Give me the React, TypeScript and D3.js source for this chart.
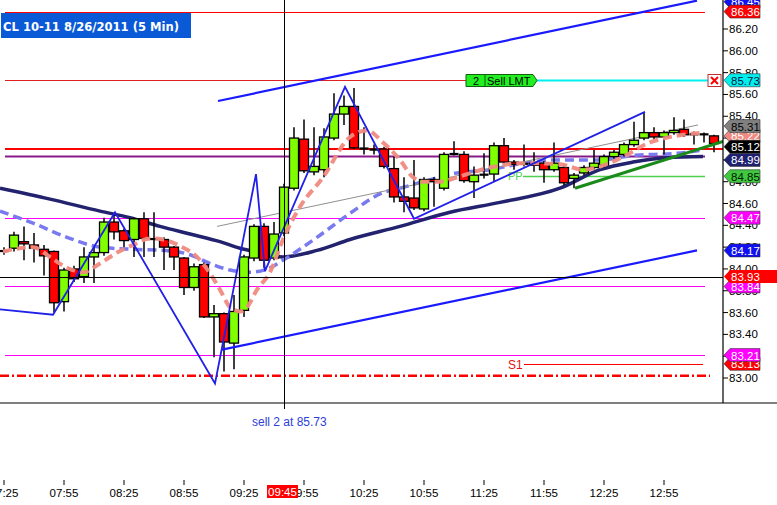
import React, { useEffect } from 'react';
import * as d3 from 'd3';

// 5 min bars from 07:25
const opens = [84.16,84.19,84.25,84.22,84.18,84.16,83.70,84.00,83.93,84.11,84.15,84.43,84.35,84.27,84.46,84.28,84.27,84.20,84.10,83.83,84.04,83.56,83.59,83.32,83.62,84.10,84.39,84.10,84.33,84.74,85.19,84.89,84.91,85.20,85.42,85.49,85.11,85.10,85.10,84.92,84.66,84.65,84.55,84.82,84.74,85.05,85.05,84.80,84.86,84.87,85.13,84.98,84.96,84.97,84.97,84.91,84.93,84.83,84.88,84.93,84.95,85.03,85.05,85.14,85.20,85.25,85.21,85.25,85.28,85.23,85.24,85.22];
const highs = [84.20,84.34,84.39,84.33,84.22,84.17,84.01,84.03,84.20,84.20,84.47,84.50,84.37,84.47,84.52,84.52,84.29,84.21,84.11,84.05,84.06,83.67,83.60,83.76,84.13,84.41,84.42,84.43,84.78,85.30,85.37,85.30,85.29,85.61,85.59,85.66,85.30,85.14,85.12,85.03,84.84,85.00,84.84,84.84,85.07,85.17,85.08,84.94,85.06,85.16,85.20,85.00,85.14,85.07,84.99,85.16,84.96,84.88,84.95,85.09,85.05,85.09,85.16,85.35,85.43,85.30,85.27,85.39,85.37,85.26,85.25,85.23];
const lows = [84.13,84.16,84.08,84.06,83.94,83.60,83.61,83.88,83.87,83.87,84.12,84.27,84.20,84.11,84.11,84.11,83.99,83.99,83.76,83.80,83.55,83.19,83.06,83.08,83.56,84.07,84.01,84.08,84.30,84.72,84.88,84.86,84.84,85.18,85.32,85.10,85.05,85.05,84.92,84.61,84.52,84.54,84.53,84.57,84.72,85.04,84.79,84.65,84.83,84.80,84.96,84.91,84.94,84.89,84.79,84.89,84.77,84.74,84.86,84.91,84.93,85.01,85.03,85.12,85.18,85.19,85.05,85.23,85.21,85.14,85.16,85.07];
const closes = [84.17,84.31,84.23,84.19,84.12,83.69,83.99,83.91,84.11,84.15,84.43,84.34,84.26,84.46,84.28,84.27,84.20,84.11,83.83,84.02,83.56,83.59,83.33,83.61,84.11,84.39,84.08,84.32,84.75,85.20,84.90,84.94,85.21,85.42,85.49,85.11,85.10,85.09,84.94,84.66,84.62,84.56,84.82,84.80,85.05,85.06,84.81,84.86,84.87,85.13,84.98,84.96,84.97,84.95,84.91,84.97,84.79,84.86,84.93,84.97,85.03,85.07,85.14,85.18,85.25,85.21,85.25,85.27,85.23,85.24,85.23,85.15];

const timeTicks = ['07:25','07:55','08:25','08:55','09:25','09:55','10:25','10:55','11:25','11:55','12:25','12:55'];
const priceTicks = [83.0,83.2,83.4,83.6,83.8,84.0,84.2,84.4,84.6,84.8,85.0,85.2,85.4,85.6,85.8,86.0,86.2];

// moving averages, read at bar positions
const slowIdx = [-0.4,4.6,9.6,12.6,15.6,18.6,21.6,23.6,25.6,27.9,31.3,34.6,39.6,44.6,49.6,55.6,59.6,62.9,66.3,69.9];
const slowVal = [84.74,84.64,84.53,84.47,84.39,84.32,84.25,84.19,84.15,84.11,84.17,84.27,84.39,84.52,84.61,84.74,84.91,84.98,85.02,85.03];
const midIdx = [-0.4,2.9,6.3,9.6,12.9,16.1,18.6,20.6,22.6,24.6,26.6,27.9,31.3,34.6,37.9,39.6,41.9,45.3,48.6,51.9,55.6,59.6,62.9,67.3,69.9];
const midVal = [84.53,84.42,84.29,84.20,84.18,84.17,84.13,84.05,83.99,83.97,84.01,84.08,84.29,84.51,84.70,84.74,84.80,84.88,84.91,84.97,85.00,85.00,85.04,85.06,85.09];
const fastIdx = [-0.1,1.6,2.9,4.6,6.3,7.9,9.6,11.3,12.9,14.6,15.9,17.6,19.3,20.6,21.6,22.6,23.6,24.3,25.3,26.6,27.9,29.6,31.9,34.6,36.3,37.9,39.6,40.9,41.9,43.6,45.3,48.6,51.9,55.6,57.9,61.3,64.6,67.9,69.9];
const fastVal = [84.16,84.19,84.20,84.11,84.01,83.97,84.05,84.15,84.22,84.28,84.27,84.21,84.11,83.96,83.81,83.65,83.61,83.65,83.81,83.97,84.27,84.57,84.84,85.21,85.27,85.16,85.00,84.84,84.80,84.80,84.84,84.93,84.97,84.96,84.91,85.00,85.16,85.23,85.25];

// drawn swing lines
const swingIdx = [-0.4,4.9,11.1,21.1,25.2,26.1,34.1,41.0,64.1];
const swingVal = [83.63,83.58,84.52,82.95,84.87,83.98,85.67,84.46,85.44];
const channelUp = [[21.4,85.54],[69.3,86.46]];
const channelDn = [[21.8,83.26],[69.3,84.17]];
const grayTrend = [[21.3,84.39],[69.4,85.32]];
const greenTrend = [[57.1,84.74],[71.9,85.17]];

const axisTags = [
  { v: 86.45, t: '86.45', bg: '#1010f0', fg: '#fff' },
  { v: 86.36, t: '86.36', bg: '#ff0000', fg: '#fff' },
  { v: 85.73, t: '85.73', bg: '#00f0f0', fg: '#002040' },
  { v: 85.22, t: '85.22', bg: '#f08a80', fg: '#fff' },
  { v: 85.31, t: '85.31', bg: '#808080', fg: '#000' },
  { v: 85.12, t: '85.12', bg: '#000000', fg: '#fff' },
  { v: 85.0, t: '84.99', bg: '#202070', fg: '#fff' },
  { v: 84.85, t: '84.85', bg: '#40c840', fg: '#002000' },
  { v: 84.47, t: '84.47', bg: '#ff00ff', fg: '#fff' },
  { v: 84.17, t: '84.17', bg: '#1010f0', fg: '#fff' },
  { v: 83.84, t: '83.84', bg: '#ff00ff', fg: '#fff' },
  { v: 83.13, t: '83.13', bg: '#ff0000', fg: '#fff' },
  { v: 83.21, t: '83.21', bg: '#ff00ff', fg: '#fff' },
];

const W = 777;
const H = 505;
const axisX = 723;
const plotBottom = 403;
const font = '"Liberation Sans", Arial, sans-serif';

const App: React.FC = () => {
  useEffect(() => {
    document.body.style.margin = '0';
  }, []);

  const x = d3.scaleLinear().domain([0, 71]).range([4, 714]);
  const y = d3.scaleLinear().domain([83, 86.2]).range([378, 29]);
  // pixel-snapped y for thin horizontal rules
  const ys = (v: number) => Math.round(y(v)) + 0.5;

  const pts = (idx: number[], val: number[]) => idx.map((d, i) => [x(d), y(val[i])] as [number, number]);
  const smooth = d3.line().curve(d3.curveMonotoneX);
  const straight = d3.line();
  const seg = (s: number[][]) => straight(s.map(p => [x(p[0]), y(p[1])] as [number, number]));

  const crossIdx = 28;
  const crossPrice = 83.93;

  const tag = (yc: number, x0: number, x1: number) =>
    `M${x0},${yc} L${x0 + 6},${yc - 6.5} L${x1},${yc - 6.5} L${x1},${yc + 6.5} L${x0 + 6},${yc + 6.5} Z`;

  const sellY = ys(85.73);

  return (
    <svg width={W} height={H} style={{ display: 'block', background: '#fff' }} fontFamily={font}>
      <defs>
        <clipPath id="plot">
          <rect x={0} y={0} width={axisX} height={plotBottom} />
        </clipPath>
      </defs>

      <g clipPath="url(#plot)">
        {/* horizontal levels */}
        <line x1={5} x2={705} y1={ys(86.36)} y2={ys(86.36)} stroke="#ff0000" strokeWidth={1} />
        <line x1={5} x2={466} y1={sellY} y2={sellY} stroke="#e02020" strokeWidth={1} />
        <line x1={537} x2={708} y1={sellY} y2={sellY} stroke="#00f0f0" strokeWidth={2} />
        <line x1={5} x2={705} y1={ys(84.47)} y2={ys(84.47)} stroke="#ff00ff" strokeWidth={1} />
        <line x1={5} x2={705} y1={ys(83.84)} y2={ys(83.84)} stroke="#ff00ff" strokeWidth={1} />
        <line x1={5} x2={705} y1={ys(83.21)} y2={ys(83.21)} stroke="#ff00ff" strokeWidth={1} />
        <line x1={524} x2={703} y1={ys(83.13)} y2={ys(83.13)} stroke="#ff0000" strokeWidth={1} />
        <text x={508} y={y(83.13) + 5} fontSize={12} fill="#e01010">S1</text>
        <line x1={0} x2={710} y1={y(83.02)} y2={y(83.02)} stroke="#ff0000" strokeWidth={2.5} strokeDasharray="9,3,2,3" />
        <line x1={523} x2={705} y1={ys(84.85)} y2={ys(84.85)} stroke="#50d050" strokeWidth={1.5} />
        <text x={508} y={y(84.85) + 4} fontSize={11} fill="#50d050">PP</text>
        <line x1={5} x2={705} y1={y(85.03)} y2={y(85.03)} stroke="#8a1a8a" strokeWidth={2} />
        <line x1={5} x2={723} y1={y(85.1)} y2={y(85.1)} stroke="#ff0000" strokeWidth={2} />

        {/* moving averages */}
        <path d={smooth(pts(slowIdx, slowVal)) || ''} fill="none" stroke="#22226e" strokeWidth={3.5} />
        <path d={smooth(pts(midIdx, midVal)) || ''} fill="none" stroke="#7a7af0" strokeWidth={3.5} strokeDasharray="9,5" />
        <path d={seg(grayTrend) || ''} stroke="#909090" strokeWidth={1} />

        {/* candles */}
        {opens.map((o, i) => {
          const c = closes[i];
          const cx = x(i);
          const top = y(Math.max(o, c));
          const bot = y(Math.min(o, c));
          const flat = Math.abs(c - o) < 0.015;
          return (
            <g key={i}>
              <line x1={cx} x2={cx} y1={y(highs[i])} y2={y(lows[i])} stroke="#000" strokeWidth={1.5} />
              {flat ? (
                <rect x={cx - 4.5} y={(top + bot) / 2 - 1} width={9} height={2.2} fill="#000" />
              ) : (
                <rect x={cx - 4.5} y={top} width={9} height={Math.max(bot - top, 2)}
                  fill={c > o ? '#7fff00' : '#ff0000'} stroke="#000" strokeWidth={1.3} />
              )}
            </g>
          );
        })}

        <path d={smooth(pts(fastIdx, fastVal)) || ''} fill="none" stroke="#f08a80" strokeWidth={4} strokeDasharray="9,5" opacity={0.95} />

        {/* drawn lines */}
        <path d={straight(pts(swingIdx, swingVal)) || ''} fill="none" stroke="#2020e8" strokeWidth={1.8} />
        <path d={seg(channelUp) || ''} stroke="#1a1aff" strokeWidth={2.2} />
        <path d={seg(channelDn) || ''} stroke="#1a1aff" strokeWidth={2.2} />
        <path d={seg(greenTrend) || ''} stroke="#1a8a1a" strokeWidth={3} />

        {/* order label */}
        <path d={`M466,${sellY - 6} L533,${sellY - 6} L537,${sellY} L533,${sellY + 6} L466,${sellY + 6} Z`} fill="#22ee22" stroke="#106010" strokeWidth={1} />
        <line x1={485} x2={485} y1={sellY - 6} y2={sellY + 6} stroke="#106010" />
        <text x={476} y={sellY + 4} fontSize={11} textAnchor="middle" fill="#000">2</text>
        <text x={487} y={sellY + 4} fontSize={11} fill="#000">Sell LMT</text>
        <rect x={708} y={sellY - 6} width={13} height={12} fill="#fff" stroke="#c03030" />
        <path d={`M711,${sellY - 3.5} L718,${sellY + 3.5} M718,${sellY - 3.5} L711,${sellY + 3.5}`} stroke="#ff0000" strokeWidth={2} />
      </g>

      {/* crosshair */}
      <line x1={x(crossIdx) + 0.5} x2={x(crossIdx) + 0.5} y1={0} y2={plotBottom + 6} stroke="#000" strokeWidth={1} />
      <line x1={0} x2={axisX} y1={ys(crossPrice)} y2={ys(crossPrice)} stroke="#000" strokeWidth={1} />

      {/* frame */}
      <line x1={axisX} x2={axisX} y1={0} y2={plotBottom} stroke="#000" strokeWidth={1.2} />
      <line x1={0} x2={W} y1={plotBottom} y2={plotBottom} stroke="#000" strokeWidth={1.2} />

      {/* price axis */}
      {priceTicks.map(p => (
        <g key={p}>
          <line x1={axisX} x2={axisX + 5} y1={y(p)} y2={y(p)} stroke="#000" />
          <text x={axisX + 6} y={y(p) + 4} fontSize={11.5} fill="#000">{p.toFixed(2)}</text>
        </g>
      ))}
      {axisTags.map(t => (
        <g key={t.t}>
          <path d={tag(y(t.v), axisX + 1, 760)} fill={t.bg} stroke="#303030" strokeWidth={0.6} />
          <text x={731} y={y(t.v) + 4.5} fontSize={11.5} fill={t.fg}>{t.t}</text>
        </g>
      ))}
      <path d={tag(y(crossPrice), axisX + 1, W)} fill="#ff0000" />
      <text x={731} y={y(crossPrice) + 4.5} fontSize={11.5} fill="#fff">{crossPrice.toFixed(2)}</text>

      {/* time axis */}
      {timeTicks.map((t, i) => (
        <g key={t}>
          <line x1={x(i * 6)} x2={x(i * 6)} y1={480} y2={485} stroke="#000" />
          <text x={x(i * 6)} y={497} fontSize={11.5} textAnchor="middle" fill="#000">{t}</text>
        </g>
      ))}
      <rect x={x(crossIdx) - 17} y={485} width={31} height={13} fill="#ff0000" />
      <text x={x(crossIdx) - 1.5} y={496} fontSize={11.5} textAnchor="middle" fill="#fff">09:45</text>

      <text x={252} y={426} fontSize={12} fill="#2a40d8">sell 2 at 85.73</text>

      {/* title */}
      <rect x={1} y={13} width={190} height={25} fill="#0a5ad8" />
      <text x={3} y={31} fontSize={12} fontWeight="bold" fill="#fff" fontFamily='"DejaVu Sans", Verdana, sans-serif'
        textLength={176} lengthAdjust="spacingAndGlyphs">CL 10-11  8/26/2011 (5 Min)</text>
    </svg>
  );
};

export default App;
